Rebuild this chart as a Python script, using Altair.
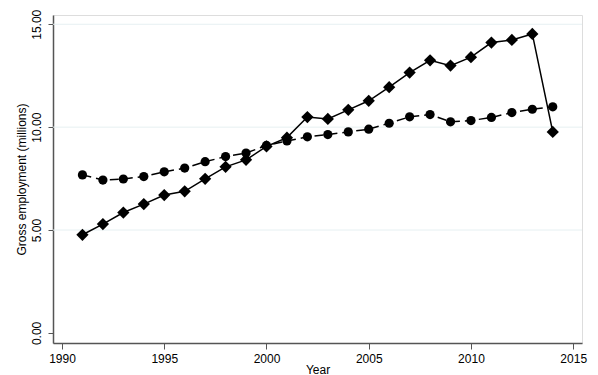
import altair as alt
import pandas as pd

years = list(range(1991, 2015))
diamond_vals = [4.77, 5.29, 5.85, 6.26, 6.70, 6.88, 7.49, 8.07, 8.41, 9.06, 9.49,
                10.49, 10.40, 10.84, 11.28, 11.94, 12.65, 13.25, 12.99, 13.40,
                14.11, 14.24, 14.53, 9.77]
circle_vals = [7.68, 7.43, 7.48, 7.60, 7.83, 8.01, 8.32, 8.57, 8.74, 9.11, 9.33,
               9.53, 9.64, 9.77, 9.90, 10.19, 10.50, 10.61, 10.26, 10.32,
               10.47, 10.71, 10.87, 10.99]
grid_vals = [5, 10, 15]
x_ticks = [1990, 1995, 2000, 2005, 2010, 2015]
y_ticks = [0, 5, 10, 15]

df_d = pd.DataFrame({"Year": years, "v": diamond_vals})
df_c = pd.DataFrame({"Year": years, "v": circle_vals})
df_g = pd.DataFrame({"g": grid_vals})

FONT = "Liberation Sans"
xs = alt.Scale(domain=[1989.56, 2015.43], nice=False, zero=False)
ys = alt.Scale(domain=[-0.49, 15.45], nice=False, zero=False)

xaxis = alt.Axis(values=x_ticks, format="d", title="Year", grid=False,
                 domainColor="#555555", domainWidth=1.5, tickColor="#555555",
                 tickSize=6, tickWidth=1, labelFont=FONT, labelFontSize=12,
                 labelColor="#000000", titleFont=FONT, titleFontSize=12,
                 titleFontWeight="normal", titleColor="#000000", labelPadding=4,
                 titlePadding=0)
yaxis = alt.Axis(values=y_ticks, format=".2f", title="Gross employment (millions)",
                 grid=False, labelAngle=-90, domainColor="#555555", domainWidth=1.5,
                 tickColor="#555555", tickSize=5, tickWidth=1, labelFont=FONT,
                 labelFontSize=12, labelColor="#000000", titleFont=FONT,
                 titleFontSize=12, titleFontWeight="normal", titleColor="#000000",
                 labelPadding=5, titlePadding=2)

grid = alt.Chart(df_g).mark_rule(color="#e6f0f2", strokeWidth=1).encode(
    y=alt.Y("g:Q", scale=ys, axis=yaxis)
)

line_c = alt.Chart(df_c).mark_line(color="#000000", strokeWidth=1.5,
                                   strokeDash=[9, 5]).encode(
    x=alt.X("Year:Q", scale=xs, axis=xaxis), y=alt.Y("v:Q", scale=ys)
)
pts_c = alt.Chart(df_c).mark_point(shape="circle", filled=True, opacity=1,
                                   color="#000000", size=85).encode(
    x=alt.X("Year:Q", scale=xs), y=alt.Y("v:Q", scale=ys)
)
line_d = alt.Chart(df_d).mark_line(color="#000000", strokeWidth=1.5).encode(
    x=alt.X("Year:Q", scale=xs), y=alt.Y("v:Q", scale=ys)
)
pts_d = alt.Chart(df_d).mark_point(shape="diamond", filled=True, opacity=1,
                                   color="#000000", size=150).encode(
    x=alt.X("Year:Q", scale=xs), y=alt.Y("v:Q", scale=ys)
)

chart = alt.layer(grid, line_c, pts_c, line_d, pts_d).properties(
    width=529, height=328,
    autosize=alt.AutoSizeParams(type="none"),
    padding={"left": 45, "top": 7, "right": 8, "bottom": 32},
).configure_view(stroke=None).configure(background="#ffffff")

chart.save("out.html", embed_options={"renderer": "svg", "actions": False})
